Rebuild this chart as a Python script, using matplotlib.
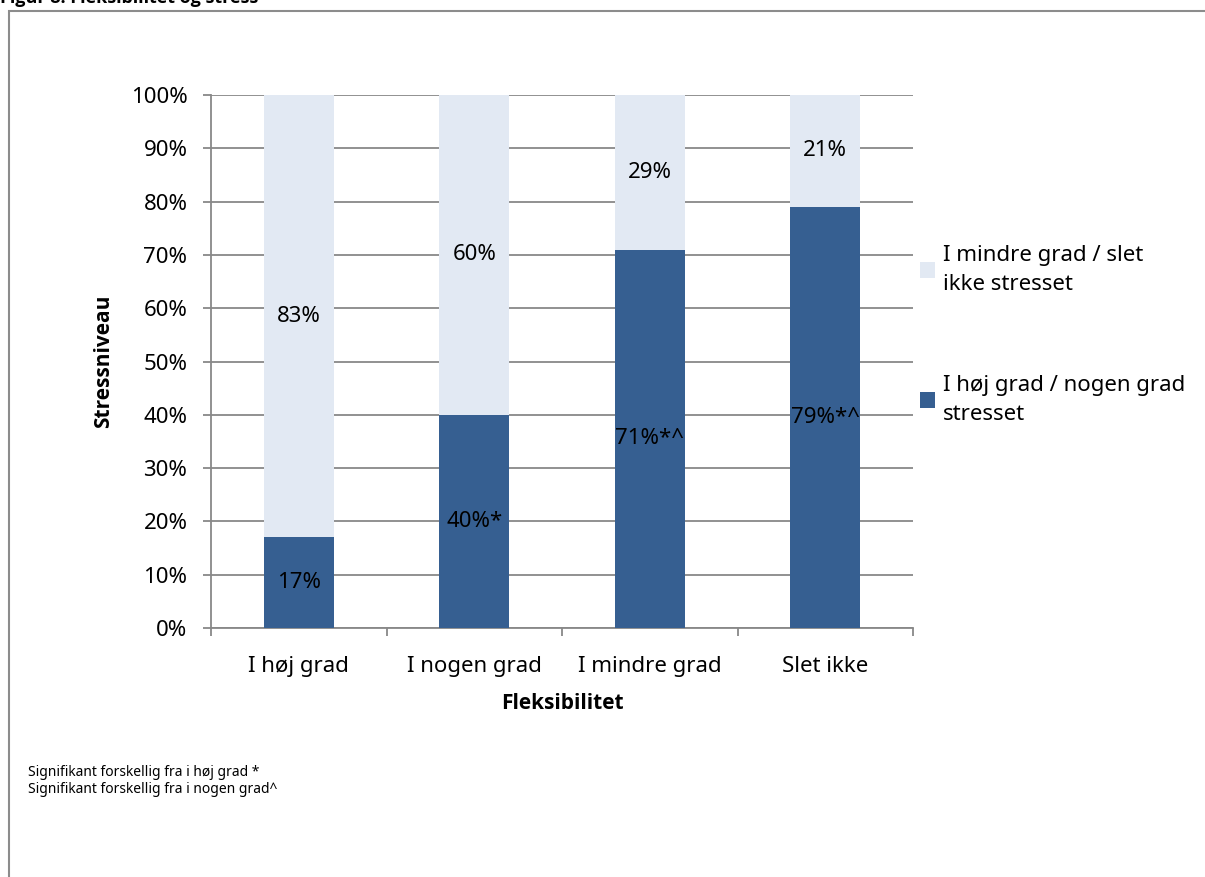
import numpy as np
import matplotlib.pyplot as plt
from matplotlib.patches import Rectangle
from matplotlib.ticker import PercentFormatter

plt.rcParams['font.family'] = ['Noto Sans', 'DejaVu Sans']
bold_family = ['Open Sans', 'DejaVu Sans']

# Andel stressede fordelt paa fleksibilitet (procent)
categories = ['I høj grad', 'I nogen grad', 'I mindre grad', 'Slet ikke']
stressed = [17, 40, 71, 79]
not_stressed = [83, 60, 29, 21]
stressed_labels = ['17%', '40%*', '71%*^', '79%*^']
not_stressed_labels = ['83%', '60%', '29%', '21%']
series_names = ['I mindre grad / slet\nikke stresset', 'I høj grad / nogen grad\nstresset']

dark = '#365F91'
light = '#E2E9F3'
grid_col = '#888888'
fs = 16

fig = plt.figure(figsize=(12.05, 8.77), dpi=100)

# ramme og overskrift
fig.patches.append(Rectangle((9 / 1205, -0.05), 1.2, 1 - 11 / 877 + 0.05,
                             transform=fig.transFigure, fill=False,
                             edgecolor='#8c8c8c', linewidth=1.5))
fig.text(0.0, 1 - 3 / 877, 'Figur 8: Fleksibilitet og stress', fontsize=13,
         fontweight='bold', family=bold_family, va='baseline', ha='left')

ax = fig.add_axes([211 / 1205, 1 - 628 / 877, 702 / 1205, 533 / 877])
x = np.arange(len(categories))
w = 0.4
ax.bar(x, stressed, w, color=dark, label=series_names[1], zorder=3)
ax.bar(x, not_stressed, w, bottom=stressed, color=light, label=series_names[0], zorder=3)

for i in range(len(categories)):
    ax.text(x[i], stressed[i] / 2, stressed_labels[i], ha='center', va='center',
            fontsize=fs, zorder=4)
    ax.text(x[i], stressed[i] + not_stressed[i] / 2, not_stressed_labels[i],
            ha='center', va='center', fontsize=fs, zorder=4)

ax.set_xlim(-0.5, 3.5)
ax.set_ylim(0, 100)
ax.set_yticks(np.arange(0, 101, 10))
ax.yaxis.set_major_formatter(PercentFormatter(decimals=0))
ax.yaxis.grid(True, color=grid_col, linewidth=1.3, zorder=0)
ax.set_xticks(x)
ax.set_xticklabels(categories)
ax.set_xticks(np.arange(-0.5, 3.6, 1), minor=True)
ax.tick_params(axis='x', which='major', length=0, pad=20, labelsize=fs)
ax.tick_params(axis='x', which='minor', length=6, color=grid_col, width=1.3)
ax.tick_params(axis='y', length=6, color=grid_col, width=1.3, pad=11, labelsize=fs)

for s in ['top', 'right']:
    ax.spines[s].set_visible(False)
for s in ['left', 'bottom']:
    ax.spines[s].set_color(grid_col)
    ax.spines[s].set_linewidth(1.3)

ax.set_xlabel('Fleksibilitet', fontsize=15, fontweight='bold', family=bold_family,
              labelpad=12)
ax.set_ylabel('Stressniveau', fontsize=15, fontweight='bold', family=bold_family,
              labelpad=12)

handles, labels = ax.get_legend_handles_labels()
leg = ax.legend(handles[::-1], labels[::-1], loc='center left',
                bbox_to_anchor=(0.981, 0.55), frameon=False, fontsize=fs,
                handlelength=0.7, handleheight=0.7, handletextpad=0.35,
                labelspacing=3.6)
for t in leg.get_texts():
    t.set_linespacing(1.5)

fig.text(28 / 1205, 1 - 781 / 877,
         'Signifikant forskellig fra i høj grad *\nSignifikant forskellig fra i nogen grad^',
         fontsize=10, va='center', ha='left', linespacing=1.15)

fig.savefig('out.png', dpi=100)
